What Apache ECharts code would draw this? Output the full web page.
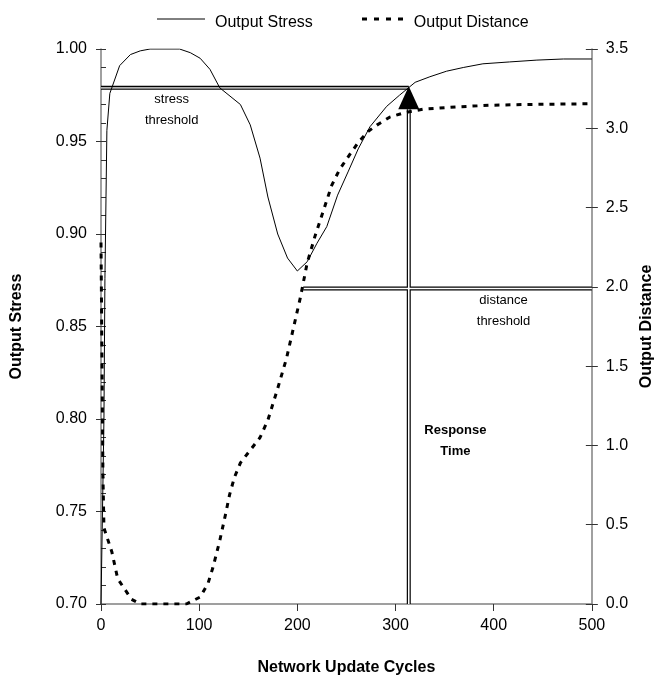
<!DOCTYPE html>
<html>
<head>
<meta charset="utf-8">
<script src="https://cdn.jsdelivr.net/npm/echarts@6/dist/echarts.min.js"></script>
<style>
  html, body { margin: 0; padding: 0; background: #fff; }
  #chart { width: 663px; height: 681px; }
</style>
</head>
<body>
<div id="chart"></div>
<script>
// values
const stressCycles = [0, 1, 3, 4, 6, 9, 19, 30, 40, 50, 80, 91, 101, 111, 121, 142, 152, 162, 170, 180, 190, 200, 210, 220, 230, 241, 252, 262, 274, 291, 304, 320, 335, 352, 369, 389, 416, 444, 471, 500]
const stressValues = [0.70, 0.70, 0.80, 0.876, 0.956, 0.976, 0.991, 0.997, 0.999, 1.0, 1.0, 0.998, 0.995, 0.989, 0.979, 0.970, 0.959, 0.941, 0.920, 0.900, 0.887, 0.880, 0.885, 0.895, 0.904, 0.921, 0.934, 0.946, 0.958, 0.969, 0.975, 0.982, 0.985, 0.988, 0.990, 0.992, 0.993, 0.994, 0.9946, 0.9946]

const distanceCycles = [0, 2, 3, 11, 17, 31, 40, 87, 101, 109, 114, 121, 127, 131, 136, 142, 152, 162, 170, 180, 189, 196, 203, 210, 218, 226, 235, 243, 254, 262, 272, 281, 294, 310, 328, 362, 396, 430, 500]
const distanceValues = [2.28, 0.8, 0.48, 0.33, 0.16, 0.03, 0, 0, 0.044, 0.13, 0.23, 0.40, 0.57, 0.69, 0.80, 0.89, 0.97, 1.05, 1.16, 1.36, 1.55, 1.74, 1.93, 2.15, 2.32, 2.47, 2.64, 2.74, 2.84, 2.91, 2.98, 3.02, 3.07, 3.10, 3.12, 3.135, 3.145, 3.15, 3.155]

const stressThreshold = 0.979
const distanceThreshold = 1.99
const responseTime = 313.5
const distanceCrossing = 206
const arrowTip = 0.9737
const arrowBase = 3.12

const xTicks = [0, 100, 200, 300, 400, 500]

const font = "Liberation Sans"
const axisGray = "#808080"

function pairs(xs, ys) {
  return xs.map((x, i) => [x, ys[i]])
}

// a double line: thick black underneath, thin light line on top
function doubleLine(name, data, axisIndex, inner) {
  return [
    {
      name: name, type: "line", yAxisIndex: axisIndex, data: data,
      symbol: "none", silent: true, z: 1,
      lineStyle: { color: "#000", width: 4 }
    },
    {
      name: name + "-in", type: "line", yAxisIndex: axisIndex, data: data,
      symbol: "none", silent: true, z: 2,
      lineStyle: { color: inner, width: 1.6 }
    }
  ]
}

let myChart = echarts.init(document.getElementById("chart"))

myChart.setOption({
  animation: false,
  backgroundColor: "#fff",
  textStyle: { fontFamily: font },
  grid: { left: 101, right: 71, top: 49, bottom: 74 },
  legend: {
    data: ["Output Stress", "Output Distance"],
    left: 157,
    top: 10,
    itemWidth: 48,
    itemHeight: 10,
    itemGap: 48,
    icon: "none",
    textStyle: { fontFamily: font, fontSize: 16, color: "#000" }
  },
  xAxis: {
    type: "value",
    min: 0,
    max: 500,
    interval: 100,
    name: "Network Update Cycles",
    nameLocation: "middle",
    nameGap: 56,
    nameTextStyle: { fontFamily: font, fontSize: 16, fontWeight: "bold", color: "#000" },
    axisLine: { lineStyle: { color: axisGray, width: 1.5 } },
    axisTick: { length: 7, lineStyle: { color: "#333" } },
    axisLabel: { fontSize: 16, color: "#000", margin: 14, formatter: v => xTicks.includes(v) ? String(v) : "" },
    splitLine: { show: false }
  },
  yAxis: [
    {
      type: "value",
      position: "left",
      min: 0.70,
      max: 1.00,
      interval: 0.05,
      name: "Output Stress",
      nameLocation: "middle",
      nameGap: 76,
      nameTextStyle: { fontFamily: font, fontSize: 16, fontWeight: "bold", color: "#000" },
      axisLine: { show: true, lineStyle: { color: axisGray, width: 1.5 } },
      axisTick: { show: true, inside: true, length: 5, lineStyle: { color: "#333" } },
      minorTick: { show: true, splitNumber: 5, length: 5, lineStyle: { color: "#333" } },
      axisLabel: { fontSize: 16, color: "#000", margin: 14, formatter: v => v.toFixed(2) },
      splitLine: { show: false }
    },
    {
      type: "value",
      position: "right",
      min: 0,
      max: 3.5,
      interval: 0.5,
      name: "Output Distance",
      nameLocation: "middle",
      nameGap: 44,
      nameTextStyle: { fontFamily: font, fontSize: 16, fontWeight: "bold", color: "#000" },
      axisLine: { show: true, lineStyle: { color: axisGray, width: 1.5 } },
      axisTick: { show: true, inside: true, length: 6, lineStyle: { color: "#333" } },
      axisLabel: { fontSize: 16, color: "#000", margin: 14, formatter: v => v.toFixed(1) },
      splitLine: { show: false }
    },
    {
      type: "value",
      position: "left",
      min: 0.70,
      max: 1.00,
      interval: 0.05,
      axisLine: { show: false },
      axisTick: { show: true, length: 5, lineStyle: { color: "#333" } },
      axisLabel: { show: false },
      splitLine: { show: false }
    },
    {
      type: "value",
      position: "right",
      min: 0,
      max: 3.5,
      interval: 0.5,
      axisLine: { show: false },
      axisTick: { show: true, length: 6, lineStyle: { color: "#333" } },
      axisLabel: { show: false },
      splitLine: { show: false }
    }
  ],
  series: [
    ...doubleLine("stress threshold", [[0, stressThreshold], [responseTime, stressThreshold]], 0, "#b0b0b0"),
    ...doubleLine("distance threshold", [[distanceCrossing, distanceThreshold], [500, distanceThreshold]], 1, "#fff"),
    ...doubleLine("response time", [[responseTime, 0], [responseTime, arrowBase]], 1, "#fff"),
    {
      name: "Output Stress",
      type: "line",
      yAxisIndex: 0,
      data: pairs(stressCycles, stressValues),
      symbol: "none",
      z: 5,
      lineStyle: { color: "#000", width: 1 }
    },
    {
      name: "Output Distance",
      type: "line",
      yAxisIndex: 1,
      data: pairs(distanceCycles, distanceValues),
      symbol: "none",
      z: 5,
      lineStyle: { color: "#000", width: 3, type: [5, 6] }
    },
    {
      name: "arrow",
      type: "scatter",
      yAxisIndex: 0,
      data: [[responseTime, arrowTip]],
      symbol: "triangle",
      symbolSize: [21, 23],
      itemStyle: { color: "#000", opacity: 1 },
      z: 6
    }
  ]
})

// text labels placed from data values through the chart's own scales
function placeText(text, x, y, axisIndex, bold) {
  const p = myChart.convertToPixel({ xAxisIndex: 0, yAxisIndex: axisIndex }, [x, y])
  return {
    type: "text",
    x: p[0],
    y: p[1],
    style: {
      text: text,
      align: "center",
      verticalAlign: "middle",
      font: (bold ? "bold " : "") + "13px " + font,
      lineHeight: 21,
      fill: "#000"
    }
  }
}

myChart.setOption({
  graphic: [
    placeText("stress\nthreshold", 72, 0.9672, 0, false),
    placeText("distance\nthreshold", 410, 1.85, 1, false),
    placeText("Response\nTime", 361, 1.03, 1, true),
    // legend icons drawn as plain lines before the legend text
    { type: "line", shape: { x1: 157, y1: 19, x2: 205, y2: 19 }, style: { stroke: "#000", lineWidth: 1 } },
    { type: "line", shape: { x1: 362, y1: 19, x2: 410, y2: 19 }, style: { stroke: "#000", lineWidth: 3, lineDash: [5, 7] } }
  ]
})
</script>
</body>
</html>
